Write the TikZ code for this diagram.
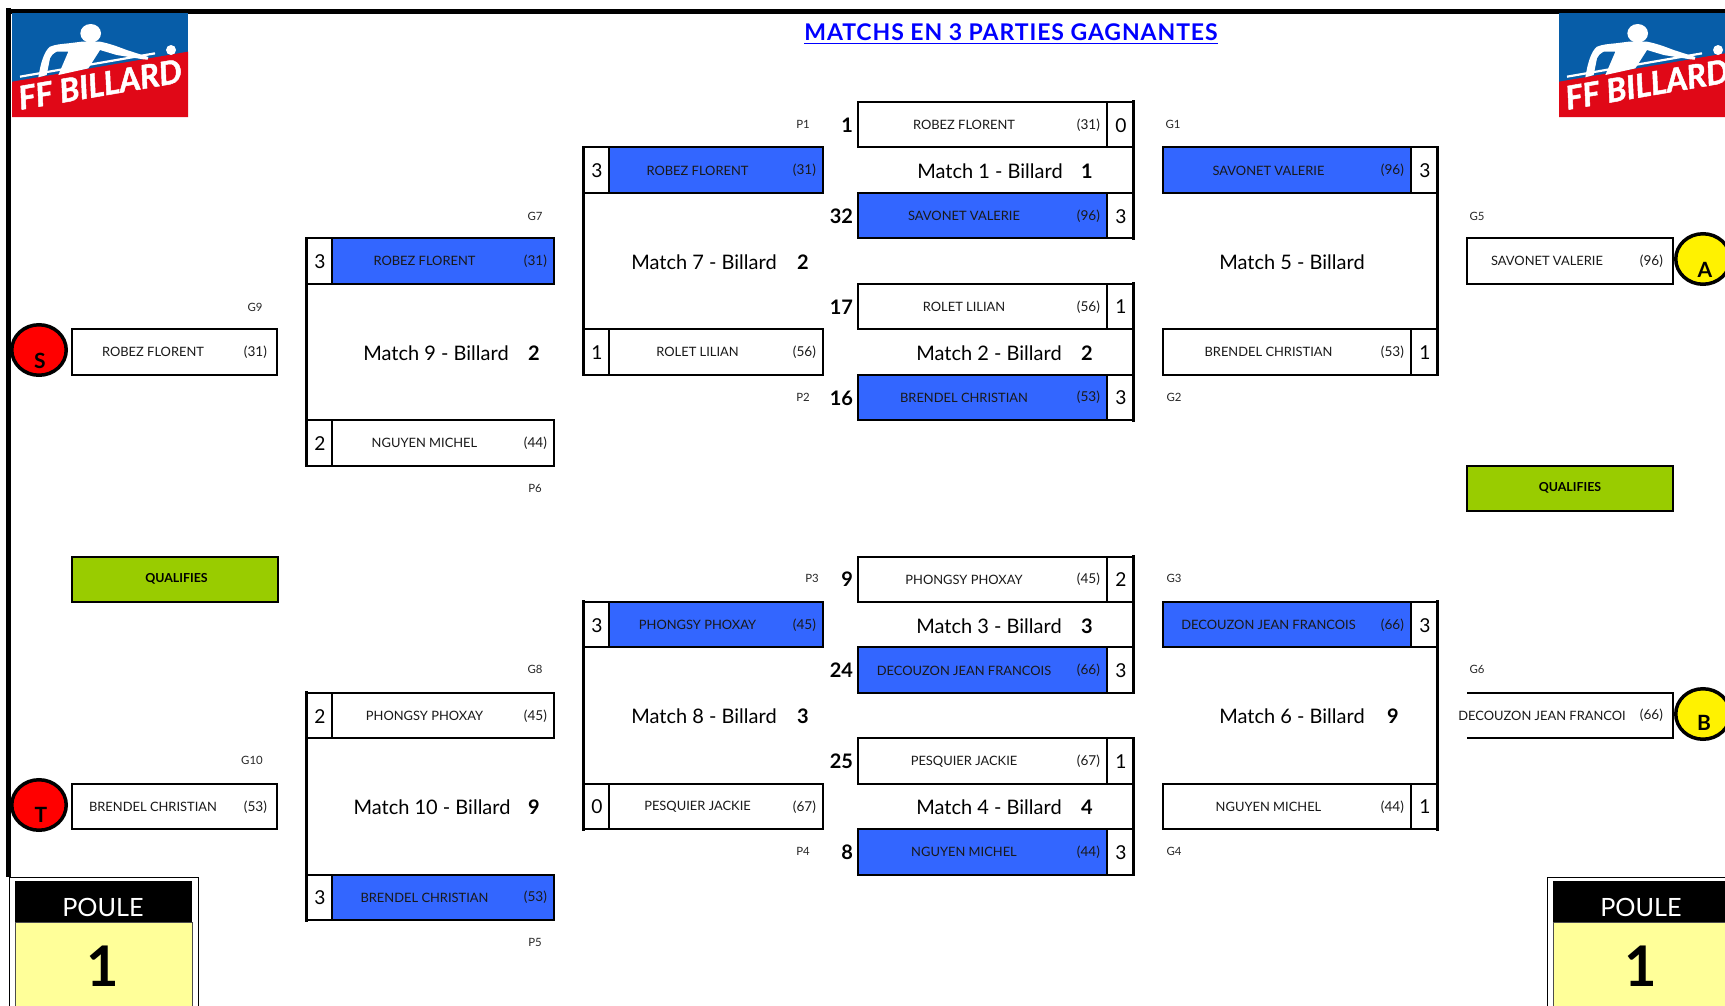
\documentclass[tikz,border=0pt]{standalone}
\usepackage{fontspec}
\setmainfont{Lato}
\newfontfamily\logofont[FakeBold=1.5]{Lato}
\newfontfamily\titlefont[LetterSpace=4]{Lato}
\usetikzlibrary{positioning,shapes.geometric}
\definecolor{winblue}{HTML}{3366FF}
\definecolor{qualgreen}{HTML}{99CC00}
\definecolor{poulefill}{HTML}{FFFF99}
\definecolor{logoblue}{HTML}{075DA8}
\definecolor{logored}{HTML}{E00817}
\tikzset{
  x=0.5pt,y=-0.5pt,
  every node/.style={inner sep=0pt,outer sep=0pt},
  box/.style={draw=black,line width=1pt,anchor=north west,minimum height=22.725pt},
  lose/.style={box,fill=white},
  win/.style={box,fill=winblue},
  scorebox/.style={box,fill=white,minimum width=13pt},
  scoretext/.style={font=\fontsize{9.6}{11}\selectfont},
  nametext/.style={font=\fontsize{6.45}{8}\selectfont,text=black!90},
  seedtext/.style={font=\fontsize{6.8}{8}\selectfont,anchor=east,text=black!90},
  smalltext/.style={font=\fontsize{5.7}{7}\selectfont,text=black!85,yshift=-0.5pt},
  ranktext/.style={font=\fontsize{10}{12}\bfseries\selectfont,anchor=east},
  matchtext/.style={font=\fontsize{10}{12}\selectfont,yshift=-0.5pt},
  matchnum/.style={font=\fontsize{10}{12}\bfseries\selectfont,yshift=-0.5pt},
  thickrule/.style={line width=1.5pt,line cap=rect},
  roundel/.style={ellipse,draw=black,line width=1.75pt,minimum width=27.25pt,minimum height=25.25pt},
  roundeltext/.style={font=\fontsize{10.5}{12}\bfseries\selectfont},
  qualbox/.style={box,fill=qualgreen,minimum width=103pt},
  qualtext/.style={font=\fontsize{6.2}{8}\bfseries\selectfont},
  framerule/.style={line width=2.5pt},
}
% id, left x, width, k, name, seed, style, centre of name, right end of seed
\newcommand\entryboxc[9]{%
  \node[#7,minimum width=#3*0.5pt] (#1) at (#2,{102+45.45*#4}) {};
  \node[nametext] (#1n) at ({#8},{125+45.45*#4}) {#5};
  \node[seedtext] (#1s) at ({#9},{125+45.45*#4}) {#6};
}
\newcommand\entrybox[7]{\entryboxc{#1}{#2}{#3}{#4}{#5}{#6}{#7}{#2+(#3-37)/2}{#2+#3-7}}
\newcommand\scoreR[3]{\node[scorebox,anchor=north west] (#1) at (#2.north east) {};
  \node[scoretext] at ([xshift=0.5pt,yshift=-0.25pt]#1.center) {#3};}
\newcommand\scoreL[3]{\node[scorebox,anchor=north east] (#1) at (#2.north west) {};
  \node[scoretext] at ([xshift=0.5pt,yshift=-0.25pt]#1.center) {#3};}
% logo drawn in 3x zoom units, top-left at (#1,#2)
\newcommand\fflogo[2]{%
  \begin{scope}[shift={(#1,#2)},x=0.1667pt,y=-0.1667pt]
    \fill[logoblue] (0,0) rectangle (528,312);
    \fill[logored] (0,206) -- (528,116) -- (528,312) -- (0,312) -- cycle;
    \fill[white] (236,61) ellipse (31 and 28);
    \fill[white] (477,111) circle (15);
    \fill[white] (79,193) .. controls (86,150) and (96,115) .. (114,101)
      .. controls (130,94) and (150,93) .. (169,91)
      -- (209,86) -- (264,86)
      .. controls (295,92) and (320,102) .. (344,111)
      -- (409,132) -- (407,140) -- (394,139)
      -- (314,126) -- (264,111)
      -- (229,166) -- (139,186) -- (169,116) -- (134,116)
      .. controls (122,122) and (116,130) .. (114,136)
      -- (104,186) -- cycle;
    \draw[white,line width=1.1pt] (24,191) -- (429,121);
    \node[rotate=9.7,text=white,font=\logofont\fontsize{16.2}{18}\bfseries\itshape\selectfont] (#1lg) at (264,214) {FF BILLARD};
  \end{scope}}
% poule panel
\newcommand\poule[3]{%
  \node[draw=black,line width=0.5pt,fill=white,anchor=north west,minimum width=94.5pt,minimum height=70pt] (#1o) at (#2,877) {};
  \node[fill=black,anchor=north west,minimum width=88.5pt,minimum height=20.5pt] (#1h) at (#2+6,881) {};
  \node[draw=black!70,line width=0.4pt,fill=poulefill,anchor=north west,minimum width=88.5pt,minimum height=42pt] (#1b) at (#2+6,922) {};
  \node[text=white,font=\fontsize{12.6}{15}\selectfont] (#1t) at (#3,907) {POULE};
  \node[font=\fontsize{28}{30}\bfseries\selectfont] (#1n) at (#3,966) {1};
}
\begin{document}
\begin{tikzpicture}
\clip (0,0) rectangle (1725,1006);
% frame
\coordinate (ftl) at (6,11.5);
\coordinate (ftr) at (1725,11.5);
\coordinate (fb) at (8.5,877);
\coordinate (ft) at (8.5,8);
\draw[framerule] (ftl) -- (ftr);
\draw[framerule] (ft) -- (fb);
\fflogo{12}{13}
\fflogo{1559}{13}
\node[text=blue,font=\titlefont\fontsize{11.5}{13}\bfseries\selectfont] (title) at (1011,34.5) {\underline{MATCHS EN 3 PARTIES GAGNANTES}};

% centre column
\entrybox{a1}{858}{249}{0}{ROBEZ FLORENT}{(31)}{lose}
\entrybox{a2}{858}{249}{2}{SAVONET VALERIE}{(96)}{win}
\entrybox{b1}{858}{249}{4}{ROLET LILIAN}{(56)}{lose}
\entrybox{b2}{858}{249}{6}{BRENDEL CHRISTIAN}{(53)}{win}
\entrybox{c1}{858}{249}{10}{PHONGSY PHOXAY}{(45)}{lose}
\entrybox{c2}{858}{249}{12}{DECOUZON JEAN FRANCOIS}{(66)}{win}
\entrybox{d1}{858}{249}{14}{PESQUIER JACKIE}{(67)}{lose}
\entrybox{d2}{858}{249}{16}{NGUYEN MICHEL}{(44)}{win}
\scoreR{sa1}{a1}{0}\scoreR{sa2}{a2}{3}
\scoreR{sb1}{b1}{1}\scoreR{sb2}{b2}{3}
\scoreR{sc1}{c1}{2}\scoreR{sc2}{c2}{3}
\scoreR{sd1}{d1}{1}\scoreR{sd2}{d2}{3}
\draw[thickrule] (sa1.north east) -- (sa2.south east);
\draw[thickrule] (sb1.north east) -- (sb2.south east);
\draw[thickrule] (sc1.north east) -- (sc2.south east);
\draw[thickrule] (sd1.north east) -- (sd2.south east);

% second column left
\entrybox{e1}{609}{214}{1}{ROBEZ FLORENT}{(31)}{win}
\entrybox{e2}{609}{214}{5}{ROLET LILIAN}{(56)}{lose}
\entrybox{f1}{609}{214}{11}{PHONGSY PHOXAY}{(45)}{win}
\entrybox{f2}{609}{214}{15}{PESQUIER JACKIE}{(67)}{lose}
\scoreL{se1}{e1}{3}\scoreL{se2}{e2}{1}\scoreL{sf1}{f1}{3}\scoreL{sf2}{f2}{0}
\draw[thickrule] (se1.north west) -- (se2.south west);
\draw[thickrule] (sf1.north west) -- (sf2.south west);

% first column left
\entrybox{g1}{332}{222}{3}{ROBEZ FLORENT}{(31)}{win}
\entrybox{g2}{332}{222}{7}{NGUYEN MICHEL}{(44)}{lose}
\entrybox{h1}{332}{222}{13}{PHONGSY PHOXAY}{(45)}{lose}
\entrybox{h2}{332}{222}{17}{BRENDEL CHRISTIAN}{(53)}{win}
\scoreL{sg1}{g1}{3}\scoreL{sg2}{g2}{2}\scoreL{sh1}{h1}{2}\scoreL{sh2}{h2}{3}
\draw[thickrule] (sg1.north west) -- (sg2.south west);
\draw[thickrule] (sh1.north west) -- (sh2.south west);

% right column
\entrybox{i1}{1163}{248}{1}{SAVONET VALERIE}{(96)}{win}
\entrybox{i2}{1163}{248}{5}{BRENDEL CHRISTIAN}{(53)}{lose}
\entrybox{j1}{1163}{248}{11}{DECOUZON JEAN FRANCOIS}{(66)}{win}
\entrybox{j2}{1163}{248}{15}{NGUYEN MICHEL}{(44)}{lose}
\scoreR{si1}{i1}{3}\scoreR{si2}{i2}{1}\scoreR{sj1}{j1}{3}\scoreR{sj2}{j2}{1}
\draw[thickrule] (si1.north east) -- (si2.south east);
\draw[thickrule] (sj1.north east) -- (sj2.south east);

% far left / far right result boxes
\entryboxc{k1}{71.5}{205.5}{5}{ROBEZ FLORENT}{(31)}{lose}{153}{267}
\entryboxc{k2}{71.5}{205.5}{15}{BRENDEL CHRISTIAN}{(53)}{lose}{153}{267}
\entryboxc{m1}{1467}{206}{3}{SAVONET VALERIE}{(96)}{lose}{1547}{1663}
\node[draw=none,anchor=north west,minimum width=103pt,minimum height=22.725pt] (m2) at (1467,692.85) {};
\draw[line width=1pt] (m2.north west) -- (m2.north east) -- (m2.south east) -- (m2.south west);
\node[nametext] (m2n) at (1542,715.5) {DECOUZON JEAN FRANCOI};
\node[seedtext] (m2s) at (1663,715.5) {(66)};

% qualifies
\node[qualbox] (q1) at (71.5,556.5) {};
\node[qualtext,xshift=1pt] at (q1.center) {QUALIFIES};
\node[qualbox] (q2) at (1467,465.6) {};
\node[qualtext] at (q2.center) {QUALIFIES};

% roundels
\node[roundel,fill=red] (rs) at (39,350) {};
\node[roundeltext] at (40,361) {S};
\node[roundel,fill=red] (rt) at (39,805) {};
\node[roundeltext] at (41,815) {T};
\node[roundel,fill=yellow] (ra) at (1703,259) {};
\node[roundeltext] at (1705,270) {A};
\node[roundel,fill=yellow] (rb) at (1703,714) {};
\node[roundeltext] at (1704,723) {B};

% rank numbers
\node[ranktext] at (853,125) {1};
\node[ranktext] at (853,216) {32};
\node[ranktext] at (853,307) {17};
\node[ranktext] at (853,398) {16};
\node[ranktext] at (853,579.5) {9};
\node[ranktext] at (853,670.5) {24};
\node[ranktext] at (853,761.5) {25};
\node[ranktext] at (853,852) {8};

% match labels
\node[matchtext] at (990,170) {Match 1 - Billard};
\node[matchnum]  at (1087,170) {1};
\node[matchtext] at (989,352) {Match 2 - Billard};
\node[matchnum]  at (1087,352) {2};
\node[matchtext] at (989,625) {Match 3 - Billard};
\node[matchnum]  at (1087,625) {3};
\node[matchtext] at (989,806) {Match 4 - Billard};
\node[matchnum]  at (1087,806) {4};
\node[matchtext] at (704,261) {Match 7 - Billard};
\node[matchnum]  at (803,261) {2};
\node[matchtext] at (704,715) {Match 8 - Billard};
\node[matchnum]  at (803,715) {3};
\node[matchtext] at (436,352) {Match 9 - Billard};
\node[matchnum]  at (534,352) {2};
\node[matchtext] at (432,806) {Match 10 - Billard};
\node[matchnum]  at (534,806) {9};
\node[matchtext] at (1292,261) {Match 5 - Billard};
\node[matchtext] at (1292,715) {Match 6 - Billard};
\node[matchnum]  at (1393,715) {9};

% small labels
\foreach \tx/\px/\py in {P1/803/123,G1/1173/123,G7/535/215,G5/1477/215,G9/255/306,P2/803/396,G2/1174/396,P6/535/487,P3/812/577,G3/1174/577,G8/535/668,G6/1477/668,G10/252/759,P4/803/850,G4/1174/850,P5/535/941}
  \node[smalltext] at (\px,\py) {\tx};

\poule{pl}{9}{103}
\poule{pr}{1547}{1641}
\end{tikzpicture}
\end{document}
